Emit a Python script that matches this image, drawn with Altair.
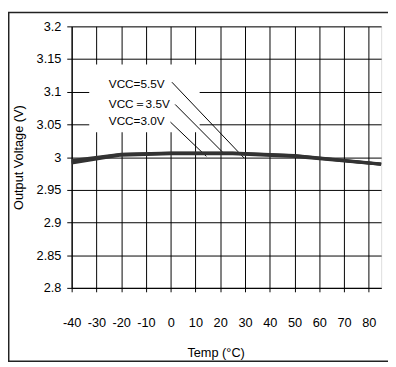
import altair as alt
import pandas as pd

# ---- data ----
temps = [-40, -20, 0, 25, 50, 85]
v30 = [2.991, 3.003, 3.005, 3.005, 3.001, 2.989]
v35 = [2.993, 3.004, 3.006, 3.006, 3.002, 2.989]
v55 = [2.995, 3.0045, 3.0065, 3.0065, 3.0025, 2.9895]
series_names = ["VCC=3.0V", "VCC＝3.5V", "VCC=5.5V"]

x_ticks = [-40, -30, -20, -10, 0, 10, 20, 30, 40, 50, 60, 70, 80]
y_ticks = [2.8, 2.85, 2.9, 2.95, 3.0, 3.05, 3.1, 3.15, 3.2]

# label annotations (text position and leader line end points)
label_text = ["VCC=5.5V", "VCC＝3.5V", "VCC=3.0V"]
label_x = [-25, -25, -25]
label_y = [3.112, 3.0817, 3.0547]
lead_x1 = [0.5, 1.8, -0.1]
lead_y1 = [3.1146, 3.0806, 3.0536]
lead_x2 = [29.6, 21.3, 14.4]
lead_y2 = [2.9988, 3.0063, 3.0012]

# white box behind the labels
box_x = [-32.9]
box_x2 = [11.7]
box_y = [3.038]
box_y2 = [3.1416]

rows = []
for name, vals in zip(series_names, [v30, v35, v55]):
    for t, v in zip(temps, vals):
        rows.append({"series": name, "temp": t, "v": v})
curve_df = pd.DataFrame(rows)

lab_df = pd.DataFrame({"text": label_text, "x": label_x, "y": label_y,
                       "x1": lead_x1, "y1": lead_y1, "x2": lead_x2, "y2": lead_y2})
box_df = pd.DataFrame({"x": box_x, "x2": box_x2, "y": box_y, "y2": box_y2})

W, H = 316, 267
FONT = "Liberation Sans"

xscale = alt.Scale(domain=[-40, 85], nice=False, zero=False)
yscale = alt.Scale(domain=[2.8, 3.2], nice=False, zero=False)

xaxis = alt.Axis(values=x_ticks, grid=True, gridColor="black", gridOpacity=1, gridWidth=1,
                 tickColor="black", tickSize=4, domainColor="black",
                 labelFont=FONT, labelFontSize=13, labelColor="black", labelPadding=25,
                 labelFlush=False, labelOverlap=False, labelExpr="'' + datum.value",
                 title="Temp (°C)", titleFont=FONT, titleFontSize=13, titleFontWeight="normal",
                 titleColor="black", titlePadding=18, titleX=147)
yaxis = alt.Axis(values=y_ticks, grid=True, gridColor="black", gridOpacity=1, gridWidth=1,
                 tickColor="black", tickSize=5, domainColor="black",
                 labelFont=FONT, labelFontSize=13, labelColor="black", labelPadding=6,
                 labelExpr="format(datum.value, '.2~f')", labelFlush=False, labelOverlap=False,
                 title="Output Voltage (V)", titleFont=FONT, titleFontSize=13,
                 titleFontWeight="normal", titleColor="black", titlePadding=11)


def X(field):
    return alt.X(field, scale=xscale, axis=xaxis, title="Temp (°C)")


def Y(field):
    return alt.Y(field, scale=yscale, axis=yaxis, title="Output Voltage (V)")


box = alt.Chart(box_df).mark_rect(color="white").encode(
    x=X("x:Q"), x2="x2:Q",
    y=Y("y:Q"), y2="y2:Q",
)

leaders = alt.Chart(lab_df).mark_rule(color="black", strokeWidth=1).encode(
    x=X("x1:Q"), x2="x2:Q",
    y=Y("y1:Q"), y2="y2:Q",
)

curves = alt.Chart(curve_df).mark_line(color="#333333", strokeWidth=3).encode(
    x=X("temp:Q"),
    y=Y("v:Q"),
    detail="series:N",
)

labels = alt.Chart(lab_df).mark_text(align="left", baseline="middle", font=FONT,
                                      fontSize=12, color="black").encode(
    x=X("x:Q"),
    y=Y("y:Q"),
    text="text:N",
)

frame = alt.Chart(box_df).mark_rect(fill=None, stroke="#222222", strokeWidth=1.5).encode(
    x=alt.value(-64.25), x2=alt.value(W + 10),
    y=alt.value(-14.25), y2=alt.value(H + 75),
)

chart = alt.layer(box, leaders, curves, labels, frame).properties(
    width=W, height=H,
    padding={"left": 65, "top": 15, "right": 7, "bottom": 76},
    autosize=alt.AutoSizeParams(type="none"),
).configure_view(stroke="black", strokeWidth=1).configure(background="white")

chart.save("out.html", embed_options={"renderer": "svg", "actions": False})
